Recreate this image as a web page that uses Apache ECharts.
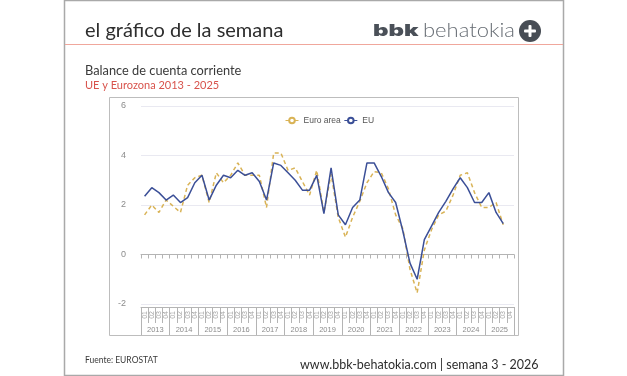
<!DOCTYPE html>
<html lang="es">
<head>
    <meta charset="UTF-8">
    <title>Balance de cuenta corriente</title>
    <script src="https://cdn.jsdelivr.net/npm/echarts@6/dist/echarts.min.js"></script>
    <style>
        html, body { margin: 0; padding: 0; background: #fff; }
        #main { width: 627px; height: 376px; }
    </style>
</head>
<body>
<div id="main"></div>
<script>
    // datos
    var years = ['2013', '2014', '2015', '2016', '2017', '2018', '2019', '2020', '2021', '2022', '2023', '2024', '2025'];
    var quarterNames = ['01', '02', '03', '04'];
    var euroArea = [1.6, 2.0, 1.7, 2.2, 1.95, 1.7, 2.8, 3.1, 3.2, 2.1, 3.3, 2.9, 3.2, 3.7, 3.2, 3.2, 3.2, 1.9, 4.1, 4.1,
        3.4, 3.5, 2.95, 2.4, 3.4, 1.7, 3.25, 1.5, 0.7, 1.5, 2.15, 2.9, 3.35, 3.3, 2.65, 1.6, 1.05, -0.6, -1.55, 0.18,
        1.0, 1.6, 1.75, 2.4, 3.2, 3.3, 2.5, 1.9, 1.9, 2.1, 1.2];
    var eu = [2.35, 2.7, 2.5, 2.2, 2.4, 2.1, 2.3, 2.9, 3.2, 2.2, 2.8, 3.2, 3.1, 3.4, 3.2, 3.3, 2.95, 2.2, 3.7, 3.6,
        3.3, 3.0, 2.6, 2.6, 3.2, 1.65, 3.5, 1.6, 1.2, 1.9, 2.2, 3.7, 3.7, 3.15, 2.5, 2.1, 0.95, -0.35, -1.0, 0.6,
        1.15, 1.7, 2.15, 2.65, 3.1, 2.7, 2.1, 2.1, 2.5, 1.7, 1.25];

    // eje de trimestres: un rotulo por trimestre
    var quarters = [];
    for (var i = 0; i < years.length; i++) {
        for (var j = 0; j < quarterNames.length; j++) {
            quarters.push(quarterNames[j]);
        }
    }

    var axisGrey = '#b4b4b4';
    var labelGrey = '#8c8c8c';
    var sansFont = 'Lato';
    var chartFont = 'Liberation Sans';

    var myChart = echarts.init(document.getElementById('main'));
    var option = {
        backgroundColor: '#fff',
        animation: false,
        textStyle: { fontFamily: chartFont },
        grid: { left: 141, width: 373, top: 106, height: 198 },
        legend: {
            left: 285,
            top: 116,
            padding: 0,
            itemWidth: 13,
            itemHeight: 7,
            itemGap: 3,
            lineStyle: { type: 'solid', width: 1 },
            textStyle: { fontSize: 8.5, color: '#555', fontFamily: chartFont },
            data: ['Euro area', 'EU']
        },
        xAxis: [
            {
                type: 'category',
                data: quarters,
                position: 'bottom',
                axisLine: { onZero: true, lineStyle: { color: axisGrey, width: 1 } },
                axisTick: { show: true, length: 4, interval: 0, lineStyle: { color: axisGrey } },
                axisLabel: { show: false }
            },
            {
                type: 'category',
                data: quarters,
                position: 'bottom',
                offset: 3,
                axisLine: { onZero: false, lineStyle: { color: axisGrey, width: 1 } },
                axisTick: { show: true, length: 16, interval: 0, lineStyle: { color: axisGrey } },
                axisLabel: {
                    show: true,
                    interval: 0,
                    rotate: 90,
                    margin: 4,
                    fontSize: 7,
                    color: '#a6a6a6',
                    hideOverlap: false
                }
            },
            {
                type: 'category',
                data: years,
                position: 'bottom',
                offset: 3,
                axisLine: { show: false, onZero: false },
                axisTick: { show: true, length: 28, interval: 0, lineStyle: { color: axisGrey } },
                axisLabel: { show: true, interval: 0, margin: 19, fontSize: 7.5, color: labelGrey }
            }
        ],
        yAxis: {
            type: 'value',
            min: -2,
            max: 6,
            interval: 2,
            axisLine: { show: false },
            axisTick: { show: false },
            axisLabel: { fontSize: 9, color: labelGrey, margin: 15 },
            splitLine: { lineStyle: { color: '#e9e9f1', width: 1 } }
        },
        series: [
            {
                name: 'Euro area',
                type: 'line',
                data: euroArea,
                symbol: 'emptyCircle',
                symbolSize: 7,
                showSymbol: false,
                itemStyle: { color: '#d9b356' },
                lineStyle: { color: '#d9b356', width: 1.5, type: [4, 3] }
            },
            {
                name: 'EU',
                type: 'line',
                data: eu,
                symbol: 'emptyCircle',
                symbolSize: 7,
                showSymbol: false,
                itemStyle: { color: '#3b4f97' },
                lineStyle: { color: '#3b4f97', width: 1.5 }
            }
        ],
        graphic: [
            // marco exterior y caja del grafico
            { type: 'rect', silent: true, z: -1, shape: { x: 64.5, y: 0.5, width: 499, height: 375 },
                style: { fill: '#fff', stroke: '#a9a9a9', lineWidth: 1.5 } },
            { type: 'rect', silent: true, z: -1, shape: { x: 109.5, y: 97.5, width: 409, height: 238 },
                style: { fill: '#fff', stroke: '#bdbdbd', lineWidth: 1 } },
            { type: 'line', silent: true, shape: { x1: 65, y1: 44.5, x2: 563, y2: 44.5 },
                style: { stroke: '#f0a79c', lineWidth: 1 } },
            // cabecera
            { type: 'text', silent: true, style: { x: 85, y: 31, text: 'el gráfico de la semana', fill: '#2e2e2e',
                font: '20px ' + sansFont, textVerticalAlign: 'middle' } },
            { type: 'text', silent: true, x: 373, y: 31, scaleX: 1.5, style: { x: 0, y: 0, text: 'bbk', fill: '#4a5058',
                font: '900 16px Inter', textVerticalAlign: 'middle' } },
            { type: 'text', silent: true, x: 423, y: 31, scaleX: 1.1, style: { x: 0, y: 0, text: 'behatokia', fill: '#666c73',
                font: '300 20px ' + sansFont, textVerticalAlign: 'middle' } },
            { type: 'circle', silent: true, shape: { cx: 530, cy: 31, r: 11 }, style: { fill: '#474d55' } },
            { type: 'rect', silent: true, shape: { x: 524, y: 29.5, width: 12, height: 3, r: 1 }, style: { fill: '#fff' } },
            { type: 'rect', silent: true, shape: { x: 528.5, y: 25, width: 3, height: 12, r: 1 }, style: { fill: '#fff' } },
            // titulos
            { type: 'text', silent: true, style: { x: 85, y: 71, text: 'Balance de cuenta corriente', fill: '#3a3a3a',
                font: '12.8px ' + sansFont, textVerticalAlign: 'middle' } },
            { type: 'text', silent: true, style: { x: 85, y: 85, text: 'UE y Eurozona 2013 - 2025', fill: '#d8534c',
                font: '11px ' + sansFont, textVerticalAlign: 'middle' } },
            // pie
            { type: 'text', silent: true, style: { x: 85, y: 360, text: 'Fuente: EUROSTAT', fill: '#3a3a3a',
                font: '8.5px ' + sansFont, textVerticalAlign: 'middle' } },
            { type: 'text', silent: true, style: { x: 300, y: 365, text: 'www.bbk-behatokia.com | semana 3 - 2026', fill: '#2e2e2e',
                font: '12.5px ' + sansFont, textVerticalAlign: 'middle' } }
        ]
    };
    myChart.setOption(option);
</script>
</body>
</html>
